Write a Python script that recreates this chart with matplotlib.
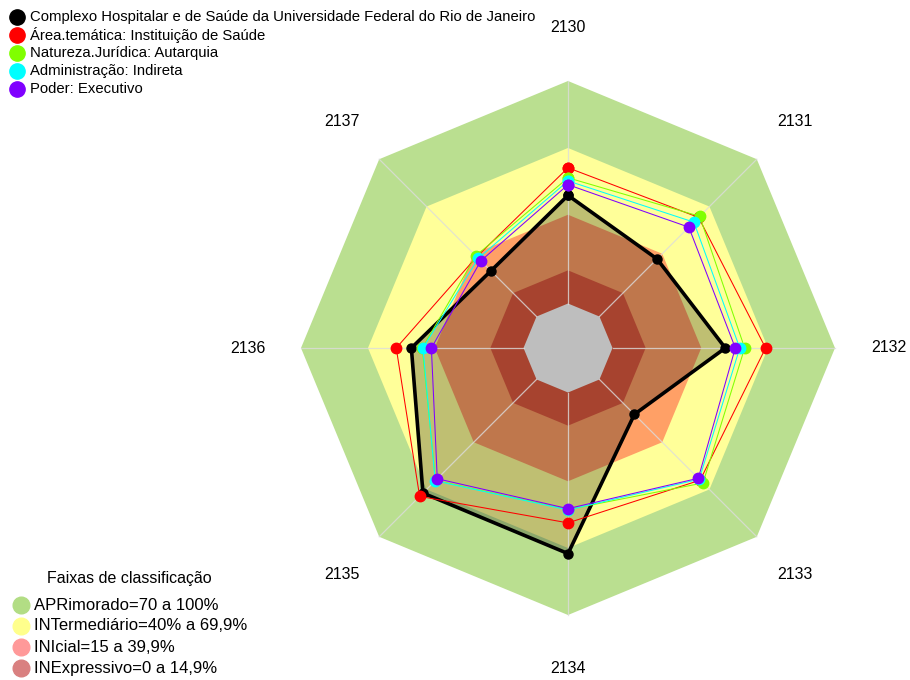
import numpy as np
import matplotlib.pyplot as plt

plt.rcParams['font.family'] = ['Liberation Sans', 'DejaVu Sans']

# axis labels (clockwise from top)
categories = ["2130", "2131", "2132", "2133", "2134", "2135", "2136", "2137"]

series_names = [
    "Complexo Hospitalar e de Saúde da Universidade Federal do Rio de Janeiro",
    "Área.temática: Instituição de Saúde",
    "Natureza.Jurídica: Autarquia",
    "Administração: Indireta",
    "Poder: Executivo",
]
series_colors = ["#000000", "#FF0000", "#80FF00", "#00FFFF", "#8000FF"]

# values in % per axis
v_orgao = [48.6, 36.6, 50.7, 22.2, 72.4, 72.2, 50.4, 29.0]
v_area = [61.0, 63.0, 68.8, 64.0, 58.6, 74.3, 57.2, 38.0]
v_natureza = [56.5, 63.7, 59.4, 65.8, 52.6, 64.2, 45.5, 38.6]
v_admin = [55.1, 60.0, 57.2, 63.4, 52.8, 64.4, 45.2, 37.0]
v_poder = [53.4, 56.8, 55.2, 62.8, 52.2, 63.1, 41.4, 35.4]
all_values = [v_orgao, v_area, v_natureza, v_admin, v_poder]

# classification bands
band_limits = [100, 69.9, 39.9, 14.9]
band_colors = ["#BADF90", "#FFFF99", "#FFA066", "#E05A40"]
band_labels = ["APRimorado=70 a 100%", "INTermediário=40% a 69,9%",
               "INIcial=15 a 39,9%", "INExpressivo=0 a 14,9%"]
band_legend_colors = ["#B2DD84", "#FFFF8C", "#FF9999", "#D98080"]

W, H = 910, 680
cx, cy, R = 568, 348, 267

fig = plt.figure(figsize=(W / 100, H / 100), dpi=100)
ax = fig.add_axes([0, 0, 1, 1])
ax.set_xlim(-cx / R, (W - cx) / R)
ax.set_ylim(-(H - cy) / R, cy / R)
ax.axis("off")

n = len(categories)
ang = np.deg2rad(90 - 360.0 / n * np.arange(n))


def rad(v):
    return 1 / 6 + np.asarray(v) / 100 * 5 / 6


def poly(v):
    r = rad(v)
    x = r * np.cos(ang)
    y = r * np.sin(ang)
    return np.append(x, x[0]), np.append(y, y[0])


for lim, col in zip(band_limits, band_colors):
    x, y = poly([lim] * n)
    ax.fill(x, y, color=col, lw=0, zorder=1)

# first series filled
x, y = poly(v_orgao)
ax.fill(x, y, color="black", alpha=0.25, lw=0, zorder=2)

# center hole
x, y = poly([0] * n)
ax.fill(x, y, color="#BEBEBE", lw=0, zorder=3)

# spokes
for a in ang:
    ax.plot([rad(0) * np.cos(a), np.cos(a)], [rad(0) * np.sin(a), np.sin(a)],
            color="#DCDCDC", lw=0.9, alpha=0.8, zorder=3)

# series
for i, (vals, col) in enumerate(zip(all_values, series_colors)):
    x, y = poly(vals)
    if i == 0:
        ax.plot(x, y, color=col, lw=2.6, marker="o", ms=6.5, zorder=4)
    else:
        ax.plot(x, y, color=col, lw=0.75, marker="o", ms=7.5, zorder=4 + i)

# axis labels
lab_r = 1.2
for a, lab in zip(ang, categories):
    ax.text(lab_r * np.cos(a), lab_r * np.sin(a), lab, ha="center", va="center",
            fontsize=11.5)

# top legend (series)
for i, (name, col) in enumerate(zip(series_names, series_colors)):
    yy = 1 - (17 + 18 * i) / H
    fig.lines.append(plt.Line2D([17 / W], [yy], marker="o", ms=11, color=col,
                                transform=fig.transFigure))
    fig.text(30 / W, yy, name, ha="left", va="center", fontsize=10.7)

# bottom legend (bands)
fig.text(129 / W, 1 - 578 / H, "Faixas de classificação", ha="center",
         va="center", fontsize=11.5)
for i, (lab, col) in enumerate(zip(band_labels, band_legend_colors)):
    yy = 1 - (605 + 21 * i) / H
    fig.lines.append(plt.Line2D([21 / W], [yy], marker="o", ms=12, color=col,
                                transform=fig.transFigure))
    fig.text(34 / W, yy, lab, ha="left", va="center", fontsize=12)

fig.savefig("out.png", dpi=100)
